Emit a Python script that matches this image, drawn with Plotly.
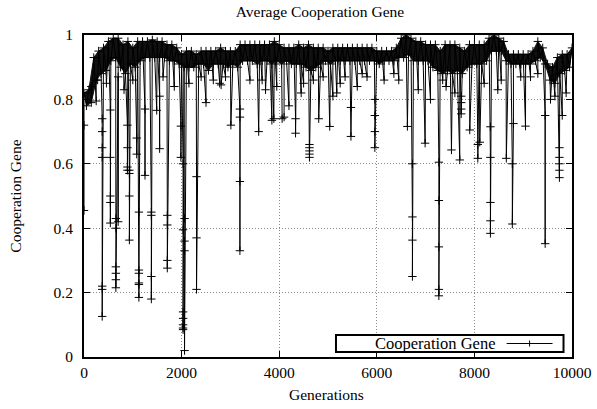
import plotly.graph_objects as go

# ---- data ----
tick_gen = [0, 2000, 4000, 6000, 8000, 10000]
tick_gen_text = ["0", "2000", "4000", "6000", "8000", "10000"]
tick_val = [0, 0.2, 0.4, 0.6, 0.8, 1]

# upper edge of the dense band, every 100 generations (0..10000)
hi_gen = list(range(0, 10001, 100))
hi_val = [0.82, 0.83, 0.93, 0.95, 0.96, 0.98, 0.99, 0.99, 0.97, 0.98,
          0.96, 0.98, 0.98, 0.98, 0.985, 0.98, 0.98, 0.97, 0.97, 0.96,
          0.94, 0.95, 0.95, 0.94, 0.95, 0.95, 0.95, 0.95, 0.96, 0.95,
          0.95, 0.95, 0.97, 0.97, 0.97, 0.97, 0.97, 0.97, 0.97, 0.98,
          0.97, 0.96, 0.96, 0.96, 0.97, 0.96, 0.97, 0.96, 0.96, 0.96,
          0.95, 0.96, 0.96, 0.96, 0.96, 0.96, 0.96, 0.96, 0.96, 0.96,
          0.95, 0.95, 0.95, 0.95, 0.96, 0.99, 1.00, 0.99, 0.98, 0.98,
          0.97, 0.97, 0.97, 0.95, 0.97, 0.97, 0.97, 0.96, 0.95, 0.97,
          0.97, 0.97, 0.97, 0.99, 1.00, 0.99, 0.98, 0.94, 0.94, 0.94,
          0.94, 0.94, 0.95, 0.98, 0.96, 0.91, 0.90, 0.93, 0.94, 0.94,
          0.96]
# lower edge of the dense band, every 100 generations (50..9950)
lo_gen = list(range(50, 10000, 100))
lo_val = [0.78, 0.79, 0.86, 0.88, 0.89, 0.92, 0.93, 0.90, 0.88, 0.91,
          0.90, 0.92, 0.93, 0.93, 0.93, 0.93, 0.93, 0.92, 0.92, 0.91,
          0.90, 0.90, 0.90, 0.91, 0.91, 0.89, 0.91, 0.91, 0.91, 0.90,
          0.91, 0.90, 0.92, 0.92, 0.92, 0.91, 0.92, 0.92, 0.91, 0.92,
          0.91, 0.92, 0.91, 0.91, 0.91, 0.90, 0.89, 0.90, 0.91, 0.92,
          0.91, 0.92, 0.92, 0.92, 0.92, 0.92, 0.92, 0.92, 0.92, 0.92,
          0.91, 0.92, 0.92, 0.92, 0.93, 0.93, 0.94, 0.92, 0.92, 0.92,
          0.92, 0.90, 0.89, 0.88, 0.89, 0.88, 0.89, 0.88, 0.90, 0.91,
          0.91, 0.91, 0.92, 0.95, 0.95, 0.95, 0.92, 0.91, 0.91, 0.91,
          0.91, 0.91, 0.92, 0.93, 0.91, 0.86, 0.85, 0.88, 0.89, 0.90]

# sharp drops: generation and the values passed through on the way down
dip_gen = [0, 150, 250, 280, 373, 460, 540, 653, 700, 820, 890, 930, 1000,
           1080, 1125, 1250, 1380, 1490, 1550, 1620, 1707, 1850, 1985, 2030,
           2060, 2150, 2306, 2400, 2500, 2650, 2780, 2810, 2900, 3010, 3195,
           3400, 3580, 3650, 3720, 3850, 3890, 3950, 4060, 4100, 4200, 4335,
           4450, 4500, 4620, 4700, 4810, 4900, 5035, 5100, 5180, 5250, 5350,
           5470, 5600, 5700, 5800, 5960, 6150, 6350, 6450, 6627, 6730, 6850,
           6990, 7100, 7272, 7350, 7420, 7530, 7600, 7700, 7730, 7905, 8070,
           8110, 8200, 8328, 8480, 8550, 8654, 8777, 8800, 8950, 9047, 9150,
           9300, 9450, 9560, 9650, 9742, 9800, 9880]
dip_vals = [[0.455, 0.72], [0.84], [0.795], [0.86],
            [0.74, 0.70, 0.65, 0.62, 0.22, 0.21, 0.126], [0.85],
            [0.767, 0.62, 0.50, 0.48, 0.416],
            [0.43, 0.40, 0.28, 0.26, 0.24, 0.215], [0.87, 0.42], [0.83],
            [0.72, 0.65, 0.59, 0.58], [0.58, 0.57, 0.50, 0.363], [0.86],
            [0.68, 0.63], [0.45, 0.27, 0.26, 0.23, 0.225, 0.185],
            [0.77, 0.564], [0.45, 0.44, 0.25, 0.18], [0.766], [0.81, 0.647],
            [0.87], [0.44, 0.41, 0.30, 0.276], [0.84], [0.717, 0.62],
            [0.60, 0.395, 0.14, 0.12, 0.10, 0.09, 0.085],
            [0.43, 0.36, 0.33, 0.02], [0.85], [0.56, 0.37, 0.21], [0.87],
            [0.79], [0.86], [0.85], [0.845], [0.87], [0.72],
            [0.77, 0.745, 0.545, 0.33], [0.86], [0.70], [0.86], [0.83],
            [0.735], [0.74], [0.84], [0.74], [0.745], [0.78], [0.74, 0.695],
            [0.82], [0.85], [0.66, 0.65, 0.64, 0.63, 0.62], [0.86], [0.74],
            [0.87], [0.716], [0.81], [0.82], [0.85], [0.87], [0.775, 0.685],
            [0.84], [0.88], [0.87], [0.80, 0.75, 0.70, 0.65], [0.86], [0.88],
            [0.86], [0.716], [0.60, 0.435, 0.363, 0.25], [0.83], [0.664],
            [0.80], [0.605, 0.486, 0.342, 0.21, 0.19], [0.86], [0.84],
            [0.643], [0.82], [0.612], [0.81, 0.79, 0.77, 0.755], [0.705],
            [0.66, 0.617], [0.667], [0.85], [0.715, 0.62, 0.48, 0.423, 0.384],
            [0.83], [0.86], [0.617], [0.60, 0.413], [0.725], [0.87], [0.717],
            [0.87], [0.88], [0.75, 0.352], [0.80], [0.81],
            [0.65, 0.62, 0.60, 0.58, 0.557], [0.75], [0.82]]

# ---- merge everything into one time-ordered series ----
pts = []
for g, v in zip(hi_gen, hi_val):
    pts.append((g, 1, v))
for g, v in zip(lo_gen, lo_val):
    pts.append((g, 1, v))
for g, vals in zip(dip_gen, dip_vals):
    for v in vals:
        pts.append((g, 0, v))
pts.sort(key=lambda p: (p[0], p[1]))
xs = [p[0] for p in pts]
ys = [p[2] for p in pts]

# band body (between lower and upper edges)
band_x = hi_gen + lo_gen[::-1]
band_y = hi_val + lo_val[::-1]

FONT = "Liberation Serif, Times New Roman, serif"
FS = 15.5

fig = go.Figure()
fig.add_trace(go.Scatter(
    x=band_x, y=band_y, mode="lines", fill="toself",
    fillcolor="#111111", line=dict(color="#111111", width=1),
    hoverinfo="skip", showlegend=False))
fig.add_trace(go.Scatter(
    x=xs, y=ys, mode="lines+markers", name="Cooperation Gene",
    line=dict(color="black", width=1),
    marker=dict(symbol="cross-thin", size=6, color="black",
                line=dict(color="black", width=1)),
    showlegend=False))

# domain in pixels: x 83.5..572.5, y 35..357
L, R, T, B = 83.5, 572.5, 35, 357
W, H = 597, 409
def px(x):
    return (x - L) / (R - L)
def py(y):
    return (B - y) / (B - T)

axis_common = dict(showline=True, linewidth=2, linecolor="black",
                   mirror="ticks", ticks="inside", ticklen=6, tickwidth=1,
                   tickcolor="black", showgrid=True, gridcolor="#8a8a8a",
                   griddash="1px,2px", gridwidth=1, zeroline=False,
                   automargin=False,
                   tickfont=dict(family=FONT, size=FS, color="black"))

fig.update_xaxes(range=[0, 10000], tickvals=tick_gen, ticktext=tick_gen_text,
                 **axis_common)
fig.update_yaxes(range=[0, 1], tickvals=tick_val, ticklabelstandoff=6,
                 **axis_common)

shapes = [
    dict(type="rect", xref="paper", yref="paper",
         x0=px(336), x1=px(564), y0=py(352), y1=py(335),
         line=dict(color="black", width=2), fillcolor="white", layer="above"),
    dict(type="line", xref="paper", yref="paper",
         x0=px(507), x1=px(553), y0=py(343.5), y1=py(343.5),
         line=dict(color="black", width=1)),
    dict(type="line", xref="paper", yref="paper",
         x0=px(527), x1=px(533), y0=py(343.5), y1=py(343.5),
         line=dict(color="black", width=1)),
    dict(type="line", xref="paper", yref="paper",
         x0=px(530), x1=px(530), y0=py(346.5), y1=py(340.5),
         line=dict(color="black", width=1)),
]

annotations = [
    dict(text="Cooperation Gene", xref="paper", yref="paper",
         x=px(498), y=py(343.5), xanchor="right", yanchor="middle",
         showarrow=False, font=dict(family=FONT, size=16.5, color="black")),
    dict(text="Generations", xref="paper", yref="paper",
         x=px(326), y=py(395), xanchor="center", yanchor="middle",
         showarrow=False, font=dict(family=FONT, size=FS, color="black")),
    dict(text="Cooperation Gene", xref="paper", yref="paper",
         x=px(14), y=py(196), xanchor="center", yanchor="middle",
         textangle=-90, showarrow=False,
         font=dict(family=FONT, size=FS, color="black")),
]

fig.update_layout(
    width=W, height=H,
    margin=dict(l=L, r=W - R, t=T, b=H - B, pad=0, autoexpand=False),
    paper_bgcolor="white", plot_bgcolor="white",
    title=dict(text="Average Cooperation Gene", x=320 / W,
               xanchor="center", y=1 - 12 / H, yanchor="middle",
               font=dict(family=FONT, size=FS, color="black")),
    shapes=shapes, annotations=annotations,
)

fig.write_html(
    "out.html",
    config={"displayModeBar": False},
    post_script="document.body.style.margin='0';document.body.style.overflow='hidden';")
